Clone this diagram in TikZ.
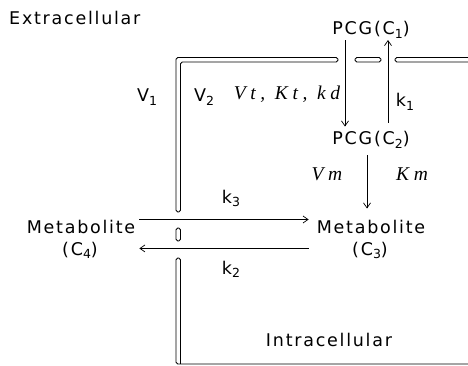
\documentclass[tikz,border=0pt]{standalone}
\usepackage{fontspec}
\newfontfamily\labfont[LetterSpace=10]{DejaVu Sans}
\newfontfamily\itfont[LetterSpace=24]{Liberation Serif}
\usetikzlibrary{arrows.meta,calc}
\newcommand{\lsub}[1]{\raisebox{-0.4ex}{\fontsize{12.5}{13}\selectfont #1}}
\begin{document}
\begin{tikzpicture}[x=1pt,y=-1pt,
  lab/.style={font={\labfont\fontsize{17.5}{20}\selectfont}, inner sep=0pt},
  mth/.style={font={\itfont\itshape\fontsize{19.5}{21}\selectfont}, inner sep=0pt},
  mem/.style={line width=0.8pt, rounded corners=1.8pt},
  arr/.style={line width=0.7pt, -{Straight Barb[length=5pt,width=7pt]}}]
\useasboundingbox (0,0) rectangle (468,366);
% membranes
\draw[mem] (338,57.5) -- (176,57.5) -- (176,212) -- (180.5,212) -- (180.5,62) -- (338,62) -- cycle;
\draw[mem] (355,57.5) rectangle (381,62);
\draw[mem] (468,57.5) -- (395,57.5) -- (395,62) -- (468,62);
\draw[mem] (176,228) rectangle (180.5,241);
\draw[mem] (468,364) -- (176,364) -- (176,258) -- (180.5,258) -- (180.5,364);
% labels
\node[lab, anchor=base west] (ext) at (9,24.5) {Extracellular};
\node[lab, anchor=base] (p1) at (371,35) {PCG(C\lsub{1})};
\node[lab, anchor=base] (p2) at (371,145) {PCG(C\lsub{2})};
\node[lab, anchor=base, inner xsep=8pt] (m3) at (371,233) {Metabolite};
\node[lab, anchor=base] (c3) at (370,255) {(C\lsub{3})};
\node[lab, anchor=base, inner xsep=4pt] (m4) at (81,233) {Metabolite};
\node[lab, anchor=base] (c4) at (80,255) {(C\lsub{4})};
\node[lab, anchor=base] (int) at (329,346) {Intracellular};
\node[lab, anchor=base] (v1) at (147,102) {V\lsub{1}};
\node[lab, anchor=base] (v2) at (204,102) {V\lsub{2}};
\node[lab, anchor=base] (k1) at (405,107) {k\lsub{1}};
\node[lab, anchor=base] (k3) at (231,203) {k\lsub{3}};
\node[lab, anchor=base] (k2) at (231,274) {k\lsub{2}};
\node[mth, anchor=base] (vt) at (287,99.5) {Vt, Kt, kd};
\node[mth, anchor=base] (vm) at (327,181) {Vm};
\node[mth, anchor=base] (km) at (412,181) {Km};
% connectors
\draw[arr] ($(p1.south)+(-26,1)$) -- ($(p2.north)+(-26,-5)$);
\draw[arr] ($(p2.north)+(17,-9)$) -- ($(p1.south)+(17,1)$);
\draw[arr] ($(p2.south)+(-4,6)$) -- ($(m3.north)+(-4,-11)$);
\draw[arr] (m4.north east) -- (m3.north west);
\draw[arr] ($(m3.south west)+(0,15)$) -- ($(m4.south east)+(0,15)$);
\end{tikzpicture}
\end{document}
